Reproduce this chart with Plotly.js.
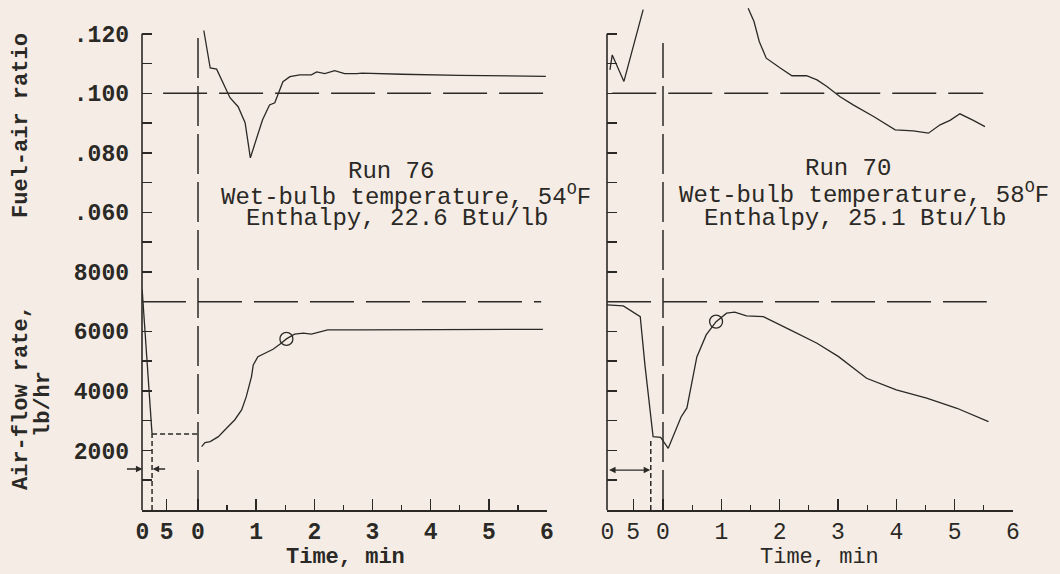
<!DOCTYPE html>
<html><head><meta charset="utf-8">
<script src="https://cdn.plot.ly/plotly-3.0.1.min.js"></script>
<style>html,body{margin:0;padding:0;background:#f5ede5;}#chart{width:1060px;height:574px;}</style>
</head><body><div id="chart"></div>
<script>
// ---------------- data ----------------
const xTickText = ['0','5','0','1','2','3','4','5','6'];
const xTickVals76 = [-0.955,-0.54,0,1,2,3,4,5,6];
const xTickVals70 = [-0.955,-0.51,0,1,2,3,4,5,6];
const xMinorVals = [0.5,1.5,2.5,3.5,4.5,5.5];
const yAirTicks = [2000,4000,6000,8000];
const yAirTickText = ['2000','4000','6000','8000'];
const yAirMinor = [1000,3000,5000,7000,9000];
const yFuelTicks = [0.06,0.08,0.10,0.12];
const yFuelTickText = ['.060','.080','.100','.120'];
const yFuelMinor = [0.07,0.09,0.11];

// reference levels
const refFuel = 0.100;
const refAir = 7000;

// Run 76 (left)
const run76PreTime = [-0.96,-0.79];
const run76PreAir  = [7400,2550];
const run76AirTime = [0.063,0.12,0.21,0.35,0.49,0.63,0.75,0.83,0.92,0.95,1.03,1.15,1.29,1.43,1.52,1.66,1.81,1.95,2.06,2.23,2.86,4.0,5.93];
const run76Air     = [2128,2262,2296,2464,2746,3025,3361,3808,4481,4874,5153,5267,5402,5603,5748,5906,5940,5906,5960,6050,6050,6060,6070];
const run76FuelTime = [0.10,0.21,0.32,0.55,0.69,0.81,0.90,1.11,1.23,1.32,1.46,1.58,1.75,1.95,2.04,2.18,2.35,2.52,2.73,2.82,3.5,4.5,5.98];
const run76Fuel     = [0.1211,0.1085,0.1081,0.0985,0.0955,0.0901,0.0783,0.0911,0.0961,0.0968,0.1039,0.1056,0.1062,0.1062,0.1072,0.1066,0.1076,0.1066,0.1066,0.1068,0.1064,0.1060,0.1057];
const run76MarkTime = [1.52];
const run76MarkAir  = [5748];

// Run 70 (right)
const run70AirTime = [-0.96,-0.68,-0.39,-0.31,-0.17,-0.04,0.09,0.31,0.41,0.58,0.74,0.91,1.09,1.23,1.43,1.72,2.18,2.64,3.01,3.26,3.49,4.00,4.52,5.04,5.58];
const run70Air     = [6891,6857,6497,4874,2464,2444,2074,3126,3429,5143,5882,6329,6612,6645,6521,6497,6050,5603,5153,4763,4427,4034,3755,3418,2968];
const run70FuelTime = [-0.91,-0.87,-0.67,-0.34,null,1.46,1.56,1.65,1.77,2.01,2.21,2.46,2.64,2.81,3.03,3.26,3.61,3.98,4.29,4.55,4.75,4.92,5.09,5.32,5.52];
const run70Fuel     = [0.1079,0.1129,0.1040,0.1281,null,0.1286,0.1241,0.1174,0.1118,0.1085,0.1059,0.1059,0.1045,0.1023,0.0989,0.0961,0.0922,0.0877,0.0874,0.0866,0.0894,0.0909,0.0931,0.0909,0.0888];
const run70MarkTime = [0.91];
const run70MarkAir  = [6329];

// ---------------- styling ----------------
const W = 1060, H = 574;
const px = v => v / W, py = v => 1 - v / H;
const ink = '#2b2926';
const bg = '#f5ede5';
const FONT = 'Liberation Mono, Courier New, monospace';
const lineStyle = {color: ink, width: 1.3};

const traces = [
  {x: run76PreTime, y: run76PreAir, xaxis: 'x', yaxis: 'y', mode: 'lines', line: lineStyle},
  {x: run76AirTime, y: run76Air, xaxis: 'x', yaxis: 'y', mode: 'lines', line: lineStyle},
  {x: run76FuelTime, y: run76Fuel, xaxis: 'x', yaxis: 'y2', mode: 'lines', line: lineStyle},
  {x: run76MarkTime, y: run76MarkAir, xaxis: 'x', yaxis: 'y', mode: 'markers',
   marker: {symbol: 'circle-open', size: 13, color: ink, line: {width: 1.3, color: ink}}},
  {x: run70AirTime, y: run70Air, xaxis: 'x2', yaxis: 'y3', mode: 'lines', line: lineStyle},
  {x: run70FuelTime, y: run70Fuel, xaxis: 'x2', yaxis: 'y4', mode: 'lines', line: lineStyle, connectgaps: false},
  {x: run70MarkTime, y: run70MarkAir, xaxis: 'x2', yaxis: 'y3', mode: 'markers',
   marker: {symbol: 'circle-open', size: 13, color: ink, line: {width: 1.3, color: ink}}}
];

const tickFontBold = {family: FONT, size: 23, color: ink, weight: 'bold'};
const tickFontNorm = {family: FONT, size: 23, color: ink};

function xAxis(domain, range, tickvals, font) {
  return {domain: domain, range: range, showgrid: false, zeroline: false, showline: true,
    linecolor: ink, linewidth: 1.6, ticks: 'inside', ticklen: 11, tickwidth: 1.5, tickcolor: ink,
    tickmode: 'array', tickvals: tickvals, ticktext: xTickText, tickfont: font, ticklabelstandoff: 0,
    minor: {tickmode: 'array', tickvals: xMinorVals, ticks: 'inside', ticklen: 5, tickwidth: 1.3, tickcolor: ink},
    fixedrange: true};
}
function yAxis(extra) {
  return Object.assign({showgrid: false, zeroline: false, showline: false,
    ticks: 'inside', ticklen: 10, tickwidth: 1.5, tickcolor: ink, tickmode: 'array',
    tickfont: tickFontBold, ticklabelstandoff: 12, fixedrange: true}, extra);
}
const yDom = [py(510), py(4)];

const dashLong = '44px,12px';
const dashVert = '40px,8px';
const dashShort = '5px,3px';
const refLine = (xref, yref, x0, x1, y0, y1, dash) => ({type: 'line', xref, yref, x0, x1, y0, y1,
  line: {color: ink, width: 1.5, dash: dash}});

const shapes = [
  {type: 'line', xref: 'x domain', yref: 'y', x0: 0, x1: 0, y0: 0, y1: 16000, line: {color: ink, width: 1.6}},
  {type: 'line', xref: 'x2 domain', yref: 'y3', x0: 0, x1: 0, y0: 0, y1: 16000, line: {color: ink, width: 1.6}},
  refLine('x', 'y2', -0.60, 6.0, refFuel, refFuel, dashLong),
  refLine('x', 'y', -0.963, 5.9, refAir, refAir, dashLong),
  refLine('x', 'y', 0, 0, 0, 16050, dashVert),
  refLine('x', 'y', -0.79, -0.79, 0, 2550, dashShort),
  refLine('x', 'y', -0.79, 0, 2550, 2550, dashShort),
  refLine('x2', 'y4', -0.87, 5.49, refFuel, refFuel, dashLong),
  refLine('x2', 'y3', -0.96, 5.55, refAir, refAir, dashLong),
  refLine('x2', 'y3', 0, 0, 0, 15690, dashVert),
  refLine('x2', 'y3', -0.21, -0.21, 0, 2420, dashShort)
];

const txt = (text, x, y, opts) => Object.assign({text, xref: 'paper', yref: 'paper', x: px(x), y: py(y),
  xanchor: 'center', yanchor: 'middle', showarrow: false,
  font: {family: FONT, size: 24, color: ink}}, opts || {});
const boldFont = {family: FONT, size: 22, color: ink, weight: 'bold'};

const annotations = [
  txt('Run 76', 391, 171),
  txt('Wet-bulb temperature, 54<sup>O</sup>F', 406, 195),
  txt('Enthalpy, 22.6 Btu/lb', 397, 219),
  txt('Run 70', 848, 168),
  txt('Wet-bulb temperature, 58<sup>O</sup>F', 864, 193),
  txt('Enthalpy, 25.1 Btu/lb', 855, 219),
  txt('Fuel-air ratio', 22, 126, {textangle: -90, font: boldFont}),
  txt('Air-flow rate,', 21, 398, {textangle: -90, font: boldFont}),
  txt('lb/hr', 43, 404, {textangle: -90, font: boldFont}),
  txt('Time, min', 345, 557, {font: boldFont}),
  txt('Time, min', 819, 557, {font: {family: FONT, size: 22, color: ink}}),
  // dimension arrows
  {xref: 'x', yref: 'y', x: -0.955, y: 1377, ax: -17, ay: 0, text: '', showarrow: true,
   arrowhead: 2, arrowsize: 1, arrowwidth: 1.3, arrowcolor: ink},
  {xref: 'x', yref: 'y', x: -0.78, y: 1377, ax: 14, ay: 0, text: '', showarrow: true,
   arrowhead: 2, arrowsize: 1, arrowwidth: 1.3, arrowcolor: ink},
  {xref: 'x2', yref: 'y3', x: -0.22, y: 1340, axref: 'x2', ayref: 'y3', ax: -0.95, ay: 1340, text: '',
   showarrow: true, arrowhead: 2, arrowside: 'end+start', arrowsize: 1, arrowwidth: 1.3, arrowcolor: ink}
];

const layout = {
  width: W, height: H, autosize: false,
  margin: {l: 0, r: 0, t: 0, b: 0, pad: 0},
  paper_bgcolor: bg, plot_bgcolor: bg,
  showlegend: false, hovermode: false,
  xaxis: xAxis([px(142), px(547)], [-0.9627, 6.0], xTickVals76, tickFontBold),
  xaxis2: xAxis([px(607), px(1013)], [-0.96, 6.0], xTickVals70, tickFontNorm),
  yaxis: yAxis({domain: yDom, range: [0, 17000], anchor: 'x', tickvals: yAirTicks, ticktext: yAirTickText,
    minor: {tickmode: 'array', tickvals: yAirMinor, ticks: 'inside', ticklen: 10, tickwidth: 1.5, tickcolor: ink}}),
  yaxis2: yAxis({overlaying: 'y', anchor: 'x', side: 'left', range: [-0.04, 0.13], tickvals: yFuelTicks, ticktext: yFuelTickText,
    minor: {tickmode: 'array', tickvals: yFuelMinor, ticks: 'inside', ticklen: 10, tickwidth: 1.5, tickcolor: ink}}),
  yaxis3: yAxis({domain: yDom, range: [0, 17000], anchor: 'x2', tickvals: yAirTicks, showticklabels: false,
    minor: {tickmode: 'array', tickvals: yAirMinor, ticks: 'inside', ticklen: 10, tickwidth: 1.5, tickcolor: ink}}),
  yaxis4: yAxis({overlaying: 'y3', anchor: 'x2', side: 'left', range: [-0.04, 0.13], tickvals: yFuelTicks, showticklabels: false,
    minor: {tickmode: 'array', tickvals: yFuelMinor, ticks: 'inside', ticklen: 10, tickwidth: 1.5, tickcolor: ink}}),
  shapes: shapes,
  annotations: annotations
};

Plotly.newPlot('chart', traces, layout, {staticPlot: true, displayModeBar: false});
</script></body></html>
